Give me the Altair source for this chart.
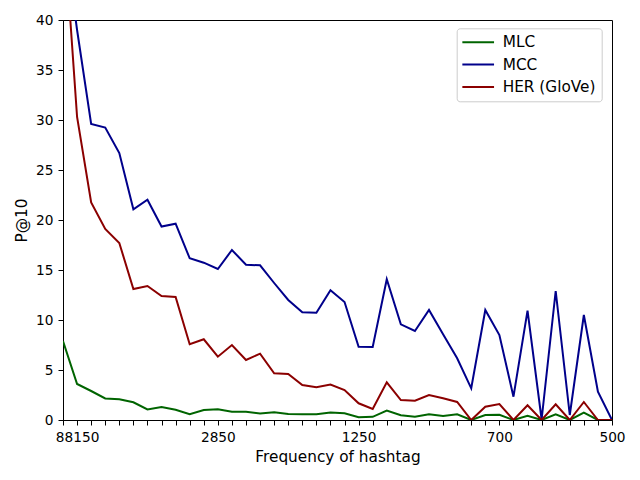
import altair as alt
import pandas as pd

# x positions (rank of hashtag bucket) and tick labels
idx = list(range(40))
tick_pos = [1, 11, 21, 31, 39]
tick_labels = ["88150", "2850", "1250", "700", "500"]

series_names = ["MLC", "MCC", "HER (GloVe)"]
series_colors = ["#006400", "#00008b", "#8b0000"]

mlc = [7.9, 3.6, 2.9, 2.15, 2.07, 1.77, 1.05, 1.3, 1.03, 0.57,
       1.0, 1.07, 0.82, 0.83, 0.65, 0.77, 0.6, 0.57, 0.57, 0.75,
       0.68, 0.28, 0.32, 0.95, 0.47, 0.33, 0.57, 0.4, 0.57, 0.0,
       0.5, 0.53, 0.0, 0.43, 0.0, 0.57, 0.0, 0.73, 0.0, 0.0]
mcc = [49.5, 39.0, 29.6, 29.25, 26.7, 21.07, 22.03, 19.35, 19.63, 16.17,
       15.73, 15.1, 17.0, 15.53, 15.47, 13.7, 12.0, 10.77, 10.72, 12.97,
       11.8, 7.33, 7.3, 14.07, 9.57, 8.9, 11.0, 8.57, 6.17, 3.17,
       11.0, 8.5, 2.33, 10.93, 0.05, 12.9, 0.5, 10.5, 2.83, 0.0]
her = [50.5, 30.3, 21.75, 19.1, 17.7, 13.1, 13.4, 12.4, 12.3, 7.57,
       8.07, 6.33, 7.5, 6.0, 6.63, 4.67, 4.6, 3.5, 3.27, 3.55,
       3.0, 1.67, 1.1, 3.77, 2.0, 1.93, 2.5, 2.17, 1.8, 0.0,
       1.33, 1.6, 0.0, 1.47, 0.0, 1.57, 0.0, 1.8, 0.0, 0.0]

rows = []
for name, vals in zip(series_names, [mlc, mcc, her]):
    for i, v in zip(idx, vals):
        rows.append({"i": i, "p": v, "series": name})
df = pd.DataFrame(rows)

label_expr = " : ".join(
    f"datum.value == {p} ? '{l}'" for p, l in zip(tick_pos, tick_labels)
) + " : ''"

FONT = "DejaVu Sans"

chart = alt.Chart(df).mark_line(clip=True, strokeWidth=2).encode(
    x=alt.X("i:Q",
            scale=alt.Scale(domain=[0, 39], nice=False, zero=False),
            axis=alt.Axis(values=idx, labelExpr=label_expr, grid=False,
                          title="Frequency of hashtag",
                          labelOverlap=False, labelFlush=False,
                          labelBaseline="alphabetic", labelPadding=16.7,
                          tickSize=5, titleX=274.5, titleY=41.7,
                          titleBaseline="alphabetic", titleAlign="center")),
    y=alt.Y("p:Q",
            scale=alt.Scale(domain=[0, 40], nice=False),
            axis=alt.Axis(values=[0, 5, 10, 15, 20, 25, 30, 35, 40],
                          grid=False, title="P@10", tickSize=5,
                          labelPadding=5, titleX=-37, titleY=200,
                          titleAngle=270, titleAlign="center",
                          titleBaseline="alphabetic")),
    color=alt.Color("series:N",
                    scale=alt.Scale(domain=series_names, range=series_colors),
                    sort=series_names,
                    legend=alt.Legend(title=None, orient="none",
                                      legendX=393.7, legendY=8.3,
                                      direction="vertical",
                                      padding=6,
                                      symbolType="M-2.264,0L2.264,0",
                                      symbolSize=196, symbolStrokeWidth=2,
                                      symbolOffset=7.5, labelOffset=16.5,
                                      rowPadding=5.3, labelFontSize=15.3,
                                      labelFont=FONT, labelColor="black",
                                      strokeColor="#cccccc",
                                      fillColor="rgba(255,255,255,0.8)",
                                      cornerRadius=3)),
).properties(
    width=549, height=400,
    autosize=alt.AutoSizeParams(type="none"),
    padding={"left": 55, "top": 12, "right": 20, "bottom": 52},
).configure_view(
    stroke="black", strokeWidth=1
).configure_axis(
    labelFont=FONT, titleFont=FONT, labelFontSize=13.7, titleFontSize=15.3,
    labelColor="black", titleColor="black", titleFontWeight="normal",
    domainColor="black", tickColor="black", domainWidth=1, tickWidth=1,
)

chart.save("out.html", embed_options={"renderer": "svg", "actions": False})
